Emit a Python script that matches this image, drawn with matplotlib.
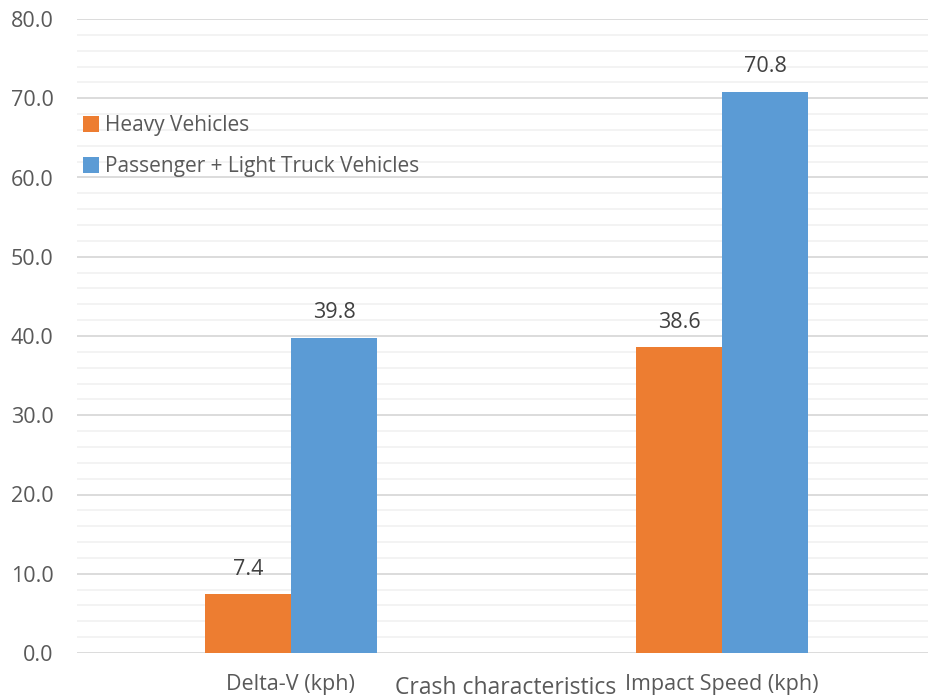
import numpy as np
import matplotlib
matplotlib.use("Agg")
from matplotlib import pyplot as plt
from matplotlib.patches import Patch

categories = ["Delta-V (kph)", "Impact Speed (kph)"]
heavy = [7.4, 38.6]
passenger = [39.8, 70.8]
series_names = ["Heavy Vehicles", "Passenger + Light Truck Vehicles"]
colors = ["#ED7D31", "#5B9BD5"]

plt.rcParams["font.family"] = ["Open Sans", "DejaVu Sans"]

fig = plt.figure(figsize=(9.29, 7.0), dpi=100)
ax = fig.add_axes([77 / 929, 47 / 700, 852 / 929, 634 / 700])

x = np.arange(len(categories))
w = 0.2
b1 = ax.bar(x - w / 2, heavy, width=w, color=colors[0], zorder=3)
b2 = ax.bar(x + w / 2, passenger, width=w, color=colors[1], zorder=3)

for bars, vals in [(b1, heavy), (b2, passenger)]:
    for r, v in zip(bars, vals):
        ax.annotate(f"{v:.1f}", (r.get_x() + r.get_width() / 2, v),
                    xytext=(0, 10.5), textcoords="offset points",
                    ha="center", va="bottom", fontsize=15.5, color="#404040")

ax.set_ylim(0, 80)
ax.set_xlim(-0.496, 1.48)
ax.set_yticks(np.arange(0, 81, 10))
ax.set_yticks(np.arange(0, 81, 2), minor=True)
ax.set_yticklabels([f"{v:.1f}" for v in np.arange(0, 81, 10)])
ax.grid(axis="y", which="major", color="#D9D9D9", linewidth=1.3, zorder=0)
ax.grid(axis="y", which="minor", color="#F2F2F2", linewidth=1.3, zorder=0)
ax.set_xticks(x)
ax.set_xticklabels(categories)
ax.tick_params(axis="both", which="both", length=0, labelsize=15.5, colors="#595959")
ax.tick_params(axis="x", pad=15)
ax.tick_params(axis="y", pad=17)
for s in ax.spines.values():
    s.set_visible(False)

fig.text(506 / 929, 1 - 688 / 700, "Crash characteristics", ha="center", va="center",
         fontsize=16.5, color="#595959")

handles = [Patch(facecolor=c) for c in colors]
ax.legend(handles, series_names, loc="upper left", bbox_to_anchor=(0.007, 0.848),
          frameon=False, fontsize=15, labelcolor="#595959", handlelength=0.75,
          handleheight=0.75, handletextpad=0.3, labelspacing=0.95, borderaxespad=0,
          borderpad=0)

fig.savefig("out.png", dpi=100, facecolor="white")
